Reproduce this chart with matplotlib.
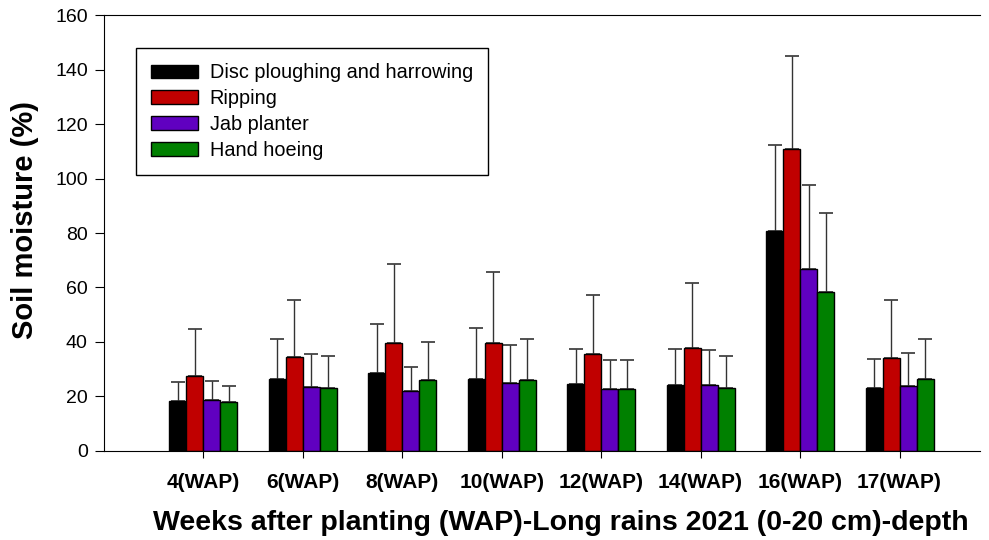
import matplotlib.pyplot as plt
import numpy as np

plt.rcParams['font.family'] = ['Liberation Sans', 'DejaVu Sans']

weeks = ['4(WAP)', '6(WAP)', '8(WAP)', '10(WAP)', '12(WAP)', '14(WAP)', '16(WAP)', '17(WAP)']
treatments = ['Disc ploughing and harrowing', 'Ripping', 'Jab planter', 'Hand hoeing']
colors = ['#000000', '#C00000', '#6000C0', '#008000']

# mean soil moisture (%)
disc = [18.3, 26.4, 28.5, 26.4, 24.5, 24.3, 80.6, 23.0]
ripping = [27.6, 34.4, 39.6, 39.6, 35.5, 37.7, 110.9, 34.2]
jab = [18.7, 23.6, 21.9, 25.1, 22.6, 24.1, 66.8, 24.0]
hoeing = [17.9, 23.1, 25.9, 26.1, 22.6, 23.0, 58.3, 26.3]

# upper error bars (sd)
disc_sd = [6.9, 14.8, 18.0, 18.9, 12.8, 13.0, 31.8, 10.9]
ripping_sd = [17.1, 21.0, 28.9, 26.0, 21.9, 23.8, 34.1, 21.1]
jab_sd = [7.0, 11.9, 9.0, 13.9, 10.9, 13.0, 30.9, 12.0]
hoeing_sd = [6.0, 11.9, 14.0, 14.9, 10.9, 12.0, 29.0, 14.9]

means = [disc, ripping, jab, hoeing]
sds = [disc_sd, ripping_sd, jab_sd, hoeing_sd]

fig = plt.figure(figsize=(9.89, 5.4), dpi=100)
ax = fig.add_axes([0.105, 0.165, 0.886, 0.807])

x = np.arange(1, len(weeks) + 1)
w = 0.171
for i in range(4):
    pos = x + (i - 1.5) * w
    ax.bar(pos, means[i], width=w, color=colors[i], edgecolor='black',
           linewidth=1.0, label=treatments[i], zorder=2)
    ax.errorbar(pos, means[i], yerr=[np.zeros(len(weeks)), sds[i]], fmt='none',
                ecolor='#333333', elinewidth=1.0, capsize=4.7, capthick=1.2, zorder=1)

ax.set_xlim(0, 8.81)
ax.set_ylim(0, 160)
ax.set_yticks(np.arange(0, 161, 20))
ax.set_xticks(x)
ax.set_xticklabels(weeks, fontweight='bold', fontsize=15)
ax.tick_params(axis='y', labelsize=14, direction='out', length=6.5, pad=5)
ax.tick_params(axis='x', direction='out', length=5, pad=11)
ax.spines['right'].set_visible(False)

ax.set_ylabel('Soil moisture (%)', fontsize=21, fontweight='bold')
ax.yaxis.set_label_coords(-0.074, 0.53)
ax.set_xlabel('Weeks after planting (WAP)-Long rains 2021 (0-20 cm)-depth',
              fontsize=20.5, fontweight='bold')
ax.xaxis.set_label_coords(0.522, -0.136)

leg = ax.legend(loc='upper left', bbox_to_anchor=(0.0365, 0.924), fontsize=14.3,
                fancybox=False, edgecolor='black', framealpha=1, borderaxespad=0,
                handlelength=2.36, handleheight=0.65, handletextpad=0.6,
                borderpad=0.75, labelspacing=0.35)
leg.get_frame().set_linewidth(1.0)

fig.savefig('out.png', dpi=100)
